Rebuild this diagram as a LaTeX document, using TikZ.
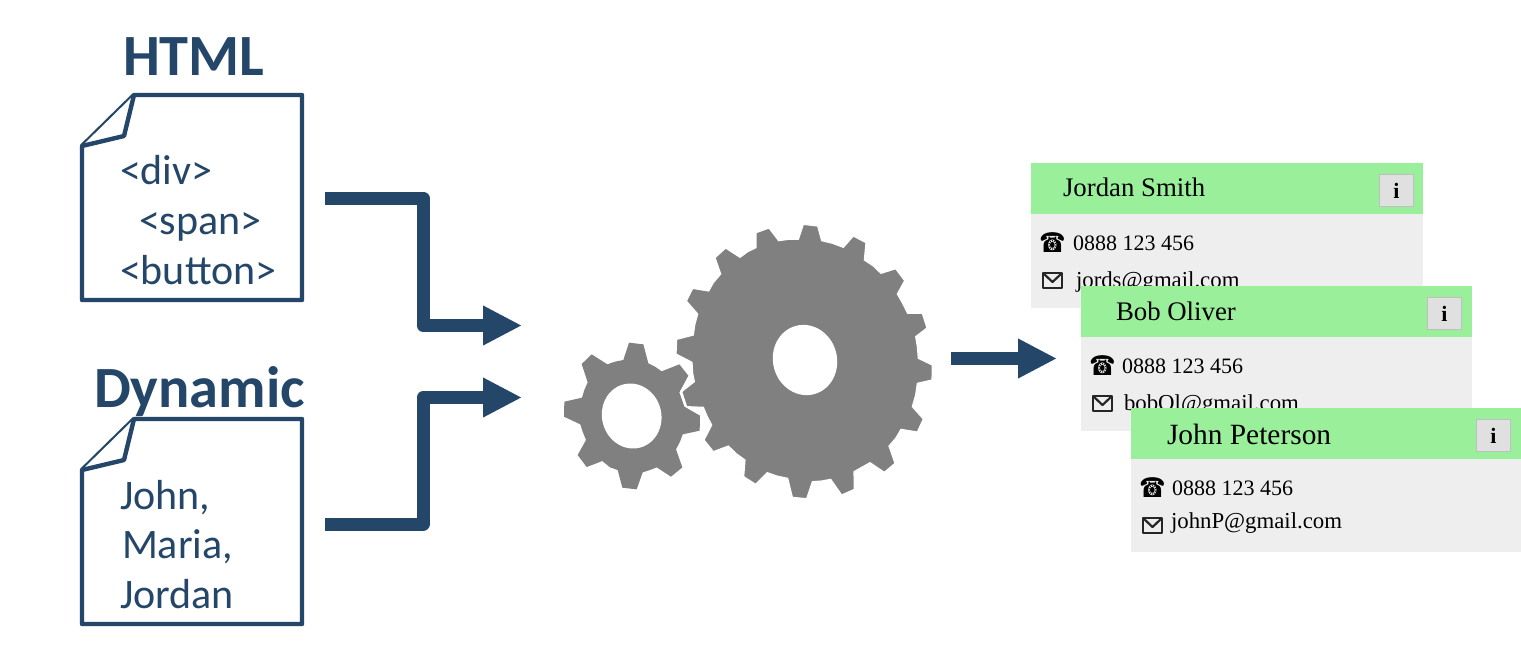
\documentclass[tikz,border=0pt]{standalone}
\usepackage{fontspec}
\usepackage{graphicx}
\setmainfont{Liberation Serif}
\newfontfamily\calib{Carlito}
\newfontfamily\djv{DejaVu Sans}
\usetikzlibrary{arrows.meta}
\definecolor{navy}{HTML}{244668}
\definecolor{gearc}{HTML}{808080}
\definecolor{hdr}{HTML}{9AF09A}
\definecolor{cardbg}{HTML}{EEEEEE}
\tikzset{
  txt/.style={anchor=base west,inner sep=0pt,outer sep=0pt},
  doctxt/.style={txt,navy,font=\calib\fontsize{21pt}{23pt}\selectfont},
  title/.style={txt,navy,font=\calib\bfseries\fontsize{29.2pt}{32pt}\selectfont},
  docline/.style={draw=navy,line width=2.2pt,line join=round,fill=white},
  flow/.style={navy,line width=6.5pt,line join=round,-{Triangle[length=19.5pt,width=18.5pt]}},
  card/.style={fill=cardbg},
  head/.style={fill=hdr},
  infobtn/.style={draw=black!25,fill=black!12,line width=.5pt,anchor=north west,minimum width=17pt,minimum height=16pt,inner sep=0pt,font=\bfseries\fontsize{11pt}{11pt}\selectfont},
  nm/.style={txt,font=\fontsize{13.4pt}{15pt}\selectfont},
  ln/.style={txt,font=\fontsize{11pt}{13pt}\selectfont},
  em/.style={txt,font=\fontsize{11.4pt}{13pt}\selectfont},
  phone/.style={anchor=base,inner sep=0pt,font=\djv\fontsize{10.5pt}{11pt}\selectfont},
  mail/.style={draw=black!85,line width=1.1pt,line join=round},
  geartrace/.style={x=0.16667pt,y=-0.16667pt},
}
\newcommand{\docshape}[2]{% top, bottom
  \draw[docline] (82,#1+51) -- (134,#1) -- (302,#1) -- (302,#2) -- (82,#2) -- cycle;
  \draw[docline] (82,#1+51) -- (124,#1+41) -- (134,#1);
}
\newcommand{\envelope}[2]{%
  \draw[mail] (#1,#2) rectangle (#1+19,#2+15);
  \draw[mail] (#1,#2) -- (#1+9.5,#2+9) -- (#1+19,#2);
}
\newcommand{\cardbox}[4]{% x, y, bottom, right
  \fill[card] (#1,#2) rectangle (#4,#3);
  \fill[head] (#1,#2) rectangle (#4,#2+51);
}
\newcommand{\phoneglyph}{\scalebox{1}[1.3]{☎}}
\begin{document}
\begin{tikzpicture}[x=0.5pt,y=-0.5pt]
\useasboundingbox (0,0) rectangle (1521,644);
\fill[white] (0,0) rectangle (1521,644);

% titles
\node[title] (t1) at (123,75) {HTML};
\node[title] (t2) at (94,407) {Dynamic};

% documents
\docshape{95}{300}
\node[doctxt] (d1) at (120,184) {<div>};
\node[doctxt] (d2) at (139,234) {<span>};
\node[doctxt] (d3) at (120,284) {<button>};
\docshape{419}{624}
\node[doctxt] (d4) at (120,509) {John,};
\node[doctxt] (d5) at (122,558) {Maria,};
\node[doctxt] (d6) at (120,608) {Jordan};

% connectors
\coordinate (s1) at (325,198);
\coordinate (b1) at (423,198);
\coordinate (m1) at (423,325.5);
\coordinate (e1) at (522,325.5);
\coordinate (s2) at (325,524);
\coordinate (b2) at (423,524);
\coordinate (m2) at (423,397.5);
\coordinate (e2) at (522,397.5);
\coordinate (s3) at (951,358.5);
\coordinate (e3) at (1057,358.5);
\draw[flow] (s1) -- (b1) -- (m1) -- (e1);
\draw[flow] (s2) -- (b2) -- (m2) -- (e2);
\draw[flow] (s3) -- (e3);

% gears, traced
\begin{scope}[shift={(550,210)},geartrace]
\fill[gearc] (220,450) -- (237,398) -- (280,403) -- (295,460) -- (315,470) -- (335,484)
 -- (388,463) -- (415,497) -- (388,547) -- (403,590)
 -- (450,617) -- (449,662) -- (398,673) -- (390,695) -- (378,718)
 -- (397,772) -- (363,800) -- (320,772) -- (300,780) -- (278,787)
 -- (260,838) -- (217,833) -- (203,780) -- (180,772) -- (157,753)
 -- (110,771) -- (83,735) -- (108,690) -- (98,665) -- (91,643)
 -- (42,620) -- (43,575) -- (96,563) -- (103,540) -- (113,517)
 -- (95,462) -- (125,433) -- (172,463) -- (195,455) -- cycle;
\fill[white,rotate around={15:(245,618)}] (245,618) ellipse (89 and 98);
\filldraw[fill=gearc,draw=white,line width=.6pt] (745,88) -- (760,43) -- (803,48) -- (815,92)
 -- (848,100) -- (880,112)
 -- (910,78) -- (948,98) -- (943,150) -- (970,168) -- (993,190)
 -- (1037,176) -- (1064,212) -- (1042,252) -- (1058,280) -- (1073,310)
 -- (1117,310) -- (1131,354) -- (1097,380) -- (1102,410) -- (1105,445)
 -- (1147,465) -- (1146,510) -- (1102,520) -- (1097,555) -- (1087,590)
 -- (1120,627) -- (1102,666) -- (1053,658) -- (1037,685) -- (1017,708)
 -- (1035,760) -- (1003,787) -- (960,758) -- (935,772) -- (912,785)
 -- (913,838) -- (875,855) -- (842,808) -- (815,813) -- (787,815)
 -- (770,866) -- (727,862) -- (713,805) -- (680,798) -- (652,788)
 -- (617,823) -- (581,800) -- (585,750) -- (560,732) -- (535,708)
 -- (490,725) -- (462,690) -- (485,645) -- (472,620) -- (460,592)
 -- (410,590) -- (395,545) -- (433,515) -- (428,490) -- (426,457)
 -- (378,432) -- (380,388) -- (430,375) -- (434,345) -- (443,312)
 -- (409,273) -- (428,235) -- (476,243) -- (490,218) -- (512,192)
 -- (495,143) -- (527,114) -- (570,142) -- (593,125) -- (618,113)
 -- (618,68) -- (657,54) -- (686,92) -- (715,88) -- cycle;
\fill[white,rotate around={15:(765,450)}] (765,450) ellipse (96 and 106);
\end{scope}

% card 1
\cardbox{1031}{163}{308}{1423}
\node[nm] (n1) at (1063,196) {Jordan Smith};
\node[infobtn] (i1) at (1379,174) {i};
\node[phone] (p1) at (1052.5,252) {\phoneglyph};
\node[ln] (c1) at (1073,250) {0888 123 456};
\envelope{1043}{273}
\node[em] (m1t) at (1076,287) {jords@gmail.com};

% card 2
\cardbox{1081}{286}{431}{1472}
\node[nm] (n2) at (1116,320) {Bob Oliver};
\node[infobtn] (i2) at (1427,297) {i};
\node[phone] (p2) at (1102.5,375) {\phoneglyph};
\node[ln] (c2) at (1122,373) {0888 123 456};
\envelope{1093}{396}
\node[em] (m2t) at (1124,410) {bobOl@gmail.com};

% card 3
\cardbox{1131}{408}{552}{1521}
\node[txt,font=\fontsize{14.7pt}{16pt}\selectfont] (n3) at (1167,444) {John Peterson};
\node[infobtn] (i3) at (1476,419) {i};
\node[phone] (p3) at (1152.5,497) {\phoneglyph};
\node[ln] (c3) at (1172,495) {0888 123 456};
\envelope{1143}{518}
\node[em] (m3t) at (1171,528) {johnP@gmail.com};
\end{tikzpicture}
\end{document}
